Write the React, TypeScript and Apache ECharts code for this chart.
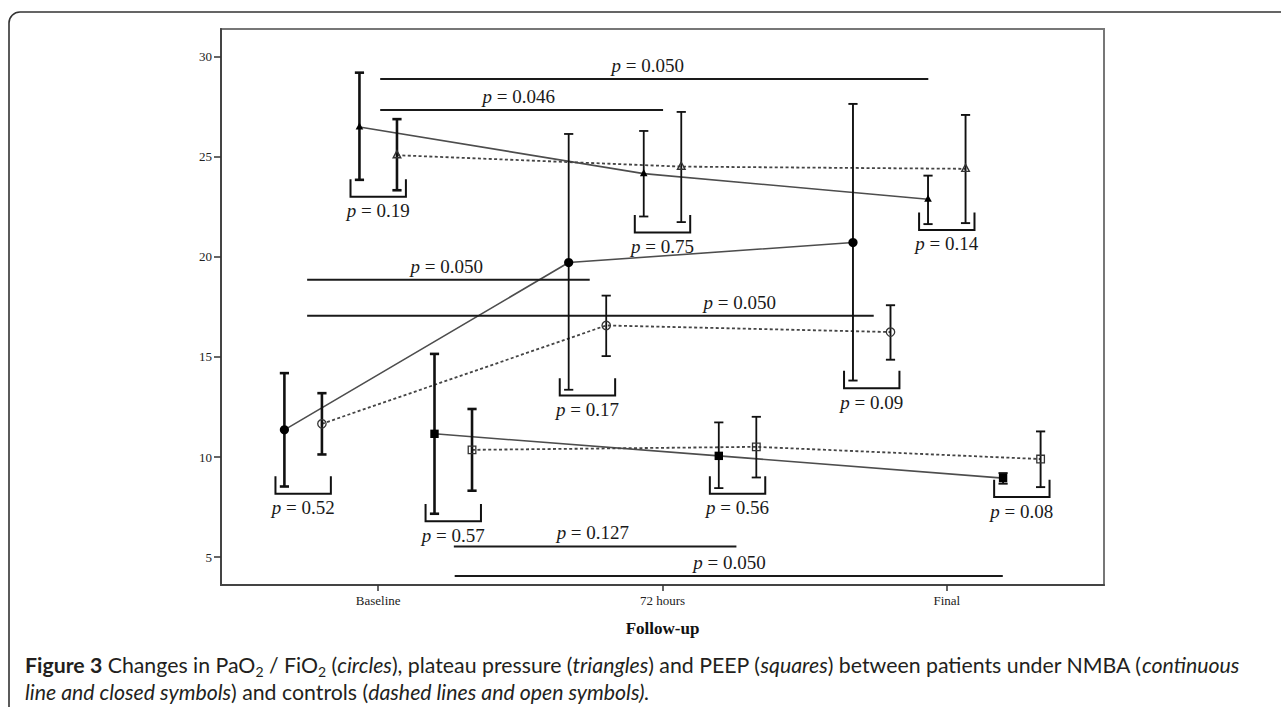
import React, { useEffect, useRef } from "react";
import * as echarts from "echarts";

// ---------------- data ----------------
const timepoints = ["Baseline", "72 hours", "Final"];
const yTicks = [5, 10, 15, 20, 25, 30];

// PaO2 / FiO2 (circles)
const pafiNmbaMean = [11.36, 19.71, 20.71];
const pafiNmbaLow = [8.53, 13.36, 13.82];
const pafiNmbaHigh = [14.19, 26.13, 27.63];
const pafiCtrlMean = [11.66, 16.57, 16.24];
const pafiCtrlLow = [10.13, 15.04, 14.86];
const pafiCtrlHigh = [13.19, 18.06, 17.58];

// Plateau pressure (triangles)
const pplatNmbaMean = [26.48, 24.15, 22.87];
const pplatNmbaLow = [23.84, 22.01, 21.63];
const pplatNmbaHigh = [29.19, 26.28, 24.05];
const pplatCtrlMean = [25.07, 24.5, 24.39];
const pplatCtrlLow = [23.32, 21.73, 21.68];
const pplatCtrlHigh = [26.87, 27.23, 27.08];

// PEEP (squares)
const peepNmbaMean = [11.16, 10.06, 8.95];
const peepNmbaLow = [7.17, 8.45, 8.67];
const peepNmbaHigh = [15.15, 11.73, 9.2];
const peepCtrlMean = [10.36, 10.51, 9.9];
const peepCtrlLow = [8.32, 8.98, 8.5];
const peepCtrlHigh = [12.4, 12.01, 11.28];

// between-group p values at each time point, with bracket bottom (value units)
const circlePairP = ["0.52", "0.17", "0.09"];
const circleBracketY = [8.17, 13.07, 13.44];
const trianglePairP = ["0.19", "0.75", "0.14"];
const triangleBracketY = [23.0, 21.21, 21.34];
const squarePairP = ["0.57", "0.56", "0.08"];
const squareBracketY = [6.79, 8.17, 8.0];

// over-time comparisons (horizontal lines)
const trendP = ["0.050", "0.046", "0.050", "0.050", "0.127", "0.050"];
const trendFrom = [0.007, 0.007, -0.25, -0.25, 0.266, 0.269];
const trendTo = [1.935, 1.002, 0.744, 1.743, 1.26, 2.197];
const trendY = [28.88, 27.33, 18.85, 17.05, 5.54, 4.06];
const trendLabelX = [0.948, 0.494, 0.241, 1.272, 0.755, 1.236];

// ---------------- layout constants ----------------
const OFF = {
  circleClosed: -0.33,
  circleOpen: -0.198,
  triClosed: -0.066,
  triOpen: 0.066,
  sqClosed: 0.198,
  sqOpen: 0.33,
};
const barWidths = [2.6, 1.8, 1.9];
const SERIF = "'Liberation Serif', 'Times New Roman', serif";
const INK = "#1a1a1a";
const P_FONT = 19;

type Marker = "circleFilled" | "circleOpen" | "triFilled" | "triOpen" | "sqFilled" | "sqOpen";

function markerShape(kind: Marker, cx: number, cy: number): any {
  switch (kind) {
    case "circleFilled":
      return { type: "circle", shape: { cx, cy, r: 4.6 }, style: { fill: "#000" } };
    case "circleOpen":
      return { type: "circle", shape: { cx, cy, r: 4.2 }, style: { fill: "transparent", stroke: "#333", lineWidth: 1.3 } };
    case "triFilled":
      return { type: "polygon", shape: { points: [[cx, cy - 4.5], [cx - 3.8, cy + 2.6], [cx + 3.8, cy + 2.6]] }, style: { fill: "#000" } };
    case "triOpen":
      return { type: "polygon", shape: { points: [[cx, cy - 4.5], [cx - 3.8, cy + 2.6], [cx + 3.8, cy + 2.6]] }, style: { fill: "transparent", stroke: "#333", lineWidth: 1.4 } };
    case "sqFilled":
      return { type: "rect", shape: { x: cx - 4.2, y: cy - 4.2, width: 8.4, height: 8.4 }, style: { fill: "#000" } };
    default:
      return { type: "rect", shape: { x: cx - 3.8, y: cy - 3.8, width: 7.6, height: 7.6 }, style: { fill: "transparent", stroke: "#333", lineWidth: 1.3 } };
  }
}

function errorBarSeries(offset: number, means: number[], lows: number[], highs: number[], marker: Marker) {
  return {
    type: "custom",
    silent: true,
    z: 5,
    renderItem: (params: any, api: any) => {
      const x = api.value(0);
      const lo = api.coord([x, api.value(1)]);
      const hi = api.coord([x, api.value(2)]);
      const m = api.coord([x, api.value(3)]);
      const lw = barWidths[params.dataIndex];
      const cap = 4.6;
      const st = { stroke: "#111", lineWidth: lw };
      return {
        type: "group",
        children: [
          { type: "line", shape: { x1: lo[0], y1: lo[1], x2: hi[0], y2: hi[1] }, style: st },
          { type: "line", shape: { x1: lo[0] - cap, y1: lo[1], x2: lo[0] + cap, y2: lo[1] }, style: st },
          { type: "line", shape: { x1: hi[0] - cap, y1: hi[1], x2: hi[0] + cap, y2: hi[1] }, style: st },
          markerShape(marker, m[0], m[1]),
        ],
      };
    },
    encode: { x: 0, y: [1, 2, 3] },
    data: means.map((v, i) => [i + offset, lows[i], highs[i], v]),
  };
}

function lineSeries(offset: number, means: number[], dashed: boolean) {
  return {
    type: "line",
    silent: true,
    z: 2,
    symbol: "none",
    lineStyle: { color: dashed ? "#444" : "#4d4d4d", width: dashed ? 1.8 : 1.6, type: dashed ? [3, 2.4] : "solid" },
    data: means.map((v, i) => [i + offset, v]),
  };
}

const pLabelRich = {
  i: { fontFamily: SERIF, fontStyle: "italic", fontSize: P_FONT, fill: INK },
};

function pText(p: string, x: number, y: number) {
  return {
    type: "text",
    x,
    y,
    style: {
      text: "{i|p} = " + p,
      rich: pLabelRich,
      fontFamily: SERIF,
      fontSize: P_FONT,
      fill: INK,
      align: "center",
      verticalAlign: "middle",
    },
  };
}

const bracketItems = [
  ...circlePairP.map((p, i) => ({ x: i + (OFF.circleClosed + OFF.circleOpen) / 2, y: circleBracketY[i], p })),
  ...trianglePairP.map((p, i) => ({ x: i + (OFF.triClosed + OFF.triOpen) / 2, y: triangleBracketY[i], p })),
  ...squarePairP.map((p, i) => ({ x: i + (OFF.sqClosed + OFF.sqOpen) / 2, y: squareBracketY[i], p })),
];

const bracketSeries = {
  type: "custom",
  silent: true,
  z: 4,
  renderItem: (params: any, api: any) => {
    const item = bracketItems[params.dataIndex];
    const b = api.coord([item.x, item.y]);
    const hw = 27.7;
    const h = 17.4;
    return {
      type: "group",
      children: [
        {
          type: "polyline",
          shape: { points: [[b[0] - hw, b[1] - h], [b[0] - hw, b[1]], [b[0] + hw, b[1]], [b[0] + hw, b[1] - h]] },
          style: { stroke: "#111", lineWidth: 2, fill: "none" },
        },
        pText(item.p, b[0], b[1] + 14),
      ],
    };
  },
  encode: { x: 0, y: 1 },
  data: bracketItems.map((d) => [d.x, d.y]),
};

const trendSeries = {
  type: "custom",
  silent: true,
  z: 4,
  renderItem: (params: any, api: any) => {
    const i = params.dataIndex;
    const a = api.coord([trendFrom[i], trendY[i]]);
    const b = api.coord([trendTo[i], trendY[i]]);
    const lx = api.coord([trendLabelX[i], trendY[i]]);
    return {
      type: "group",
      children: [
        { type: "line", shape: { x1: a[0], y1: a[1], x2: b[0], y2: b[1] }, style: { stroke: "#1a1a1a", lineWidth: 2 } },
        pText(trendP[i], lx[0], a[1] - 13.5),
      ],
    };
  },
  encode: { x: [0, 1], y: 2 },
  data: trendP.map((_, i) => [trendFrom[i], trendTo[i], trendY[i]]),
};

const CAP_SIZE = 21.3;
const capFont = "Lato, 'Noto Sans', sans-serif";
const capRich = {
  b: { fontFamily: capFont, fontWeight: "bold", fontSize: CAP_SIZE, lineHeight: 26, fill: "#231f20" },
  i: { fontFamily: capFont, fontStyle: "italic", fontSize: CAP_SIZE, lineHeight: 26, fill: "#231f20" },
  s: { fontFamily: capFont, fontSize: 14, lineHeight: 14, verticalAlign: "bottom", fill: "#231f20" },
};

export default function App() {
  const ref = useRef<HTMLDivElement>(null);
  useEffect(() => {
    document.body.style.margin = "0";
    if (!ref.current) return;
    const chart = echarts.init(ref.current, null, { renderer: "svg" });
    chart.setOption({
      animation: false,
      backgroundColor: "#fff",
      grid: { left: 221, top: 29, width: 883, height: 556, show: true, borderColor: "#777", borderWidth: 2, backgroundColor: "transparent" },
      xAxis: {
        type: "value",
        min: -0.553,
        max: 2.553,
        splitLine: { show: false },
        axisLine: { show: true, onZero: false, lineStyle: { color: "#444", width: 2 } },
        axisTick: { show: true, customValues: [0, 1, 2], length: 6, lineStyle: { color: "#333", width: 1.5 } },
        axisLabel: {
          customValues: [0, 1, 2],
          formatter: (v: number) => timepoints[Math.round(v)] ?? "",
          fontFamily: SERIF,
          fontSize: 13,
          color: "#222",
          margin: 9,
        },
        name: "Follow-up",
        nameLocation: "middle",
        nameGap: 35,
        nameTextStyle: { fontFamily: SERIF, fontWeight: "bold", fontSize: 17, color: "#111" },
      },
      yAxis: {
        type: "value",
        min: 3.613,
        max: 31.37,
        splitLine: { show: false },
        axisLine: { show: true, onZero: false, lineStyle: { color: "#444", width: 2 } },
        axisTick: { show: true, customValues: yTicks, length: 7, lineStyle: { color: "#333", width: 1.5 } },
        axisLabel: {
          customValues: yTicks,
          formatter: (v: number) => String(Math.round(v)),
          fontFamily: SERIF,
          fontSize: 13,
          color: "#222",
          margin: 9,
        },
      },
      series: [
        lineSeries(OFF.circleClosed, pafiNmbaMean, false),
        lineSeries(OFF.circleOpen, pafiCtrlMean, true),
        lineSeries(OFF.triClosed, pplatNmbaMean, false),
        lineSeries(OFF.triOpen, pplatCtrlMean, true),
        lineSeries(OFF.sqClosed, peepNmbaMean, false),
        lineSeries(OFF.sqOpen, peepCtrlMean, true),
        errorBarSeries(OFF.circleClosed, pafiNmbaMean, pafiNmbaLow, pafiNmbaHigh, "circleFilled"),
        errorBarSeries(OFF.circleOpen, pafiCtrlMean, pafiCtrlLow, pafiCtrlHigh, "circleOpen"),
        errorBarSeries(OFF.triClosed, pplatNmbaMean, pplatNmbaLow, pplatNmbaHigh, "triFilled"),
        errorBarSeries(OFF.triOpen, pplatCtrlMean, pplatCtrlLow, pplatCtrlHigh, "triOpen"),
        errorBarSeries(OFF.sqClosed, peepNmbaMean, peepNmbaLow, peepNmbaHigh, "sqFilled"),
        errorBarSeries(OFF.sqOpen, peepCtrlMean, peepCtrlLow, peepCtrlHigh, "sqOpen"),
        bracketSeries,
        trendSeries,
      ],
      graphic: [
        {
          type: "rect",
          silent: true,
          z: -10,
          shape: { x: 9, y: 12, width: 1300, height: 730, r: 11 },
          style: { fill: "transparent", stroke: "#333", lineWidth: 1.6 },
        },
        {
          type: "text",
          x: 25,
          y: 665,
          style: {
            text:
              "{b|Figure 3} Changes in PaO{s|2} / FiO{s|2} ({i|circles}), plateau pressure ({i|triangles}) and PEEP ({i|squares}) between patients under NMBA ({i|continuous}",
            rich: capRich,
            fontFamily: capFont,
            fontSize: CAP_SIZE,
            lineHeight: 26,
            fill: "#231f20",
            align: "left",
            verticalAlign: "middle",
          },
        },
        {
          type: "text",
          x: 25,
          y: 692,
          style: {
            text: "{i|line and closed symbols}) and controls ({i|dashed lines and open symbols).}",
            rich: capRich,
            fontFamily: capFont,
            fontSize: CAP_SIZE,
            lineHeight: 26,
            fill: "#231f20",
            align: "left",
            verticalAlign: "middle",
          },
        },
      ],
    });
    return () => chart.dispose();
  }, []);
  return <div ref={ref} style={{ position: "absolute", left: 0, top: 0, width: 1281, height: 707 }} />;
}
